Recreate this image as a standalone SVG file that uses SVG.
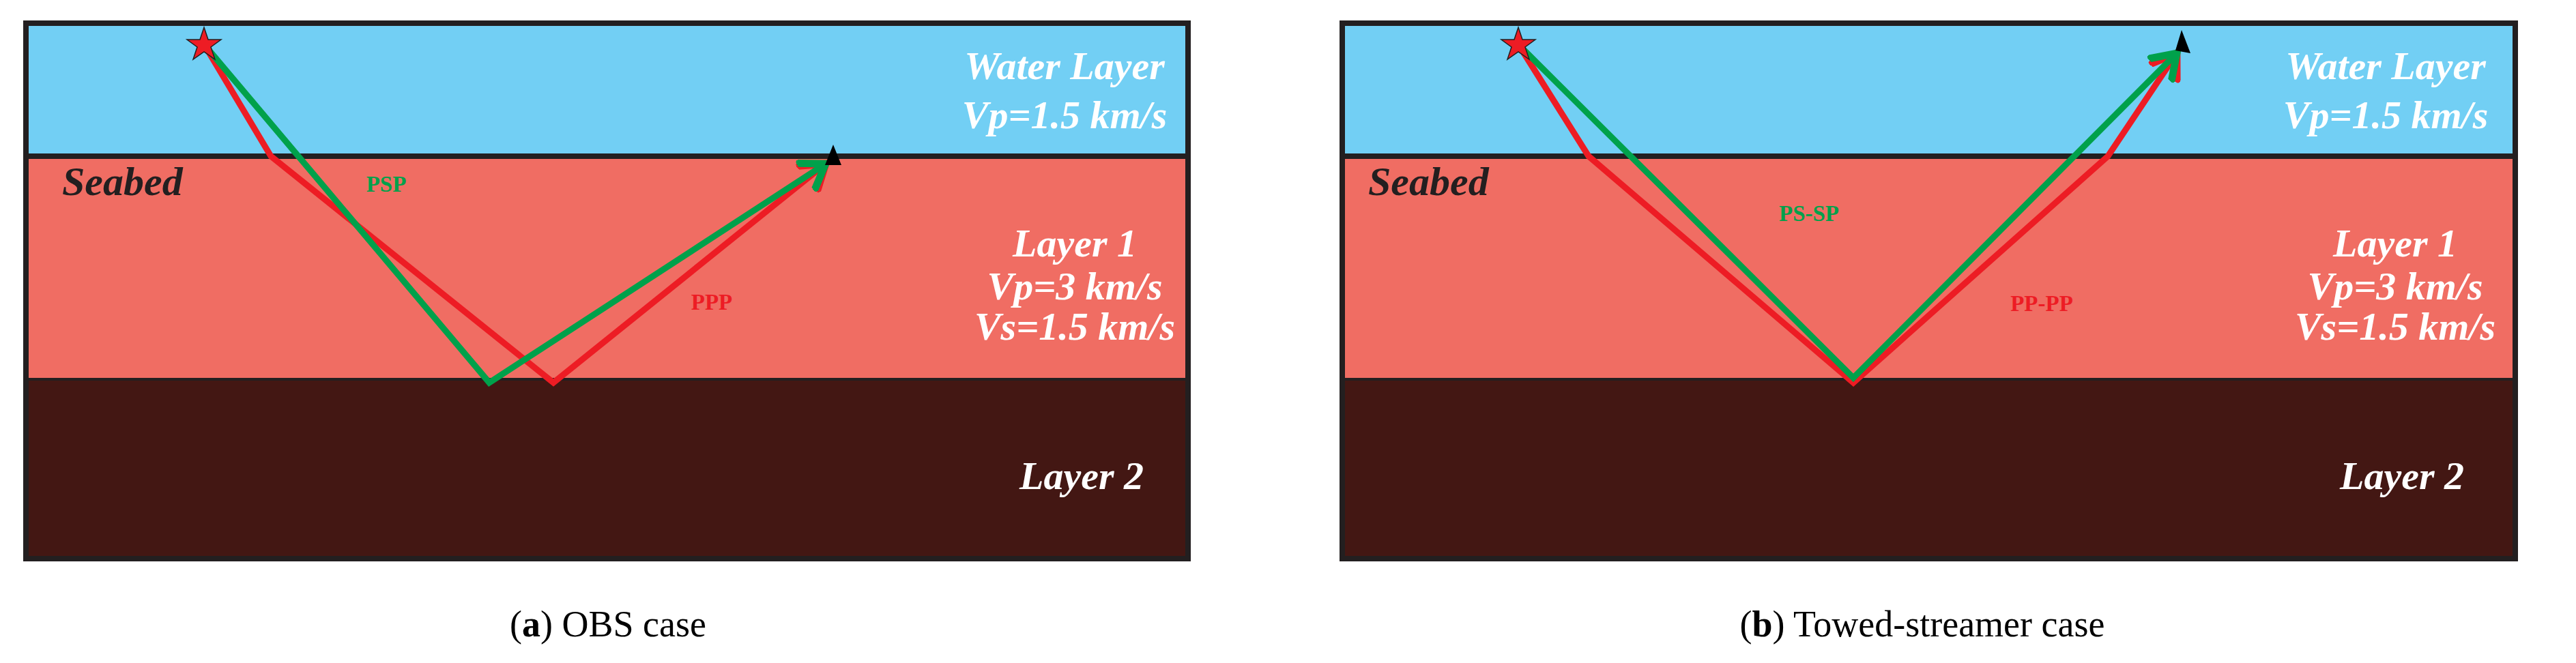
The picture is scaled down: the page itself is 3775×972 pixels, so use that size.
<svg xmlns="http://www.w3.org/2000/svg" width="3775" height="972" viewBox="0 0 3775 972">
<style>
.lbl{font-family:"Liberation Serif",serif;font-weight:bold;font-style:italic;font-size:58px;fill:#fff;text-anchor:middle}
.sea{font-family:"Liberation Serif",serif;font-weight:bold;font-style:italic;font-size:60px;fill:#231f20}
.cap{font-family:"Liberation Serif",serif;font-size:54px;fill:#000;text-anchor:middle}
.ray{fill:none;stroke-width:9;stroke-linejoin:miter}
.r{stroke:#ed1c24}.g{stroke:#00a14b}
.sm{font-family:"Liberation Serif",serif;font-weight:bold;font-size:33px;text-anchor:middle}
</style>
<defs>
<marker id="ar" markerWidth="6" markerHeight="6" refX="4" refY="3" orient="auto" markerUnits="strokeWidth"><path d="M0,0.3 L4,3 L0,5.7" fill="none" stroke="#ed1c24" stroke-width="1.2"/></marker>
<marker id="ag" markerWidth="6" markerHeight="6" refX="4" refY="3" orient="auto" markerUnits="strokeWidth"><path d="M0,0.3 L4,3 L0,5.7" fill="none" stroke="#00a14b" stroke-width="1.2"/></marker>
</defs>
<rect width="3775" height="972" fill="#fff"/>
<g id="panel-a">
<rect x="38" y="34" width="1703" height="195" fill="#72cff4"/>
<rect x="38" y="229" width="1703" height="327" fill="#f06d63"/>
<rect x="38" y="556" width="1703" height="263" fill="#431713"/>
<line x1="38" y1="229" x2="1741" y2="229" stroke="#231f20" stroke-width="8"/>
<line x1="38" y1="556" x2="1741" y2="556" stroke="#231f20" stroke-width="4"/>
<rect x="38" y="34" width="1703" height="785" fill="none" stroke="#231f20" stroke-width="8"/>
</g>
<g id="panel-b">
<rect x="1967" y="34" width="1719" height="195" fill="#72cff4"/>
<rect x="1967" y="229" width="1719" height="327" fill="#f06d63"/>
<rect x="1967" y="556" width="1719" height="263" fill="#431713"/>
<line x1="1967" y1="229" x2="3686" y2="229" stroke="#231f20" stroke-width="8"/>
<line x1="1967" y1="556" x2="3686" y2="556" stroke="#231f20" stroke-width="4"/>
<rect x="1967" y="34" width="1719" height="785" fill="none" stroke="#231f20" stroke-width="8"/>
</g>
<g id="connectors">
<polyline class="ray r" points="299,65 397,229 811,561 1210,240" marker-end="url(#ar)"/>
<polyline class="ray g" points="299,65 717,561 1210,240" marker-end="url(#ag)"/>
<polyline class="ray r" points="2225,65 2328,229 2716,561 3089,229 3190,78" marker-end="url(#ar)"/>
<polyline class="ray g" points="2225,65 2716,554 3190,78" marker-end="url(#ag)"/>
</g>
<g id="source-a"><polygon points="299,40 305,58 324,58 309,69 315,87 299,76 283,87 289,69 274,58 293,58" fill="#ed1c24" stroke="#231f20" stroke-width="1.5"/></g>
<g id="source-b"><polygon points="2225,40 2231,58 2250,58 2235,69 2241,87 2225,76 2209,87 2215,69 2200,58 2219,58" fill="#ed1c24" stroke="#231f20" stroke-width="1.5"/></g>
<g id="receiver-a"><polygon points="1221,212 1233,242 1209,242" fill="#000"/></g>
<g id="receiver-b"><polygon points="3197,44 3210,78 3188,74" fill="#000"/></g>
<g id="labels-a">
<text class="sea" x="91" y="286">Seabed</text>
<text class="lbl" x="1560" y="116">Water Layer</text>
<text class="lbl" x="1560" y="188">Vp=1.5 km/s</text>
<text class="lbl" x="1575" y="376">Layer 1</text>
<text class="lbl" x="1575" y="439">Vp=3 km/s</text>
<text class="lbl" x="1575" y="498">Vs=1.5 km/s</text>
<text class="lbl" x="1585" y="717">Layer 2</text>
<text class="sm" x="566" y="281" fill="#00a14b">PSP</text>
<text class="sm" x="1043" y="454" fill="#ed1c24">PPP</text>
<text class="cap" x="891" y="933">(<tspan font-weight="bold">a</tspan>) OBS case</text>
</g>
<g id="labels-b">
<text class="sea" x="2005" y="286">Seabed</text>
<text class="lbl" x="3496" y="116">Water Layer</text>
<text class="lbl" x="3496" y="188">Vp=1.5 km/s</text>
<text class="lbl" x="3510" y="376">Layer 1</text>
<text class="lbl" x="3510" y="439">Vp=3 km/s</text>
<text class="lbl" x="3510" y="498">Vs=1.5 km/s</text>
<text class="lbl" x="3520" y="717">Layer 2</text>
<text class="sm" x="2651" y="324" fill="#00a14b">PS-SP</text>
<text class="sm" x="2992" y="456" fill="#ed1c24">PP-PP</text>
<text class="cap" x="2817" y="933">(<tspan font-weight="bold">b</tspan>) Towed-streamer case</text>
</g>
</svg>
